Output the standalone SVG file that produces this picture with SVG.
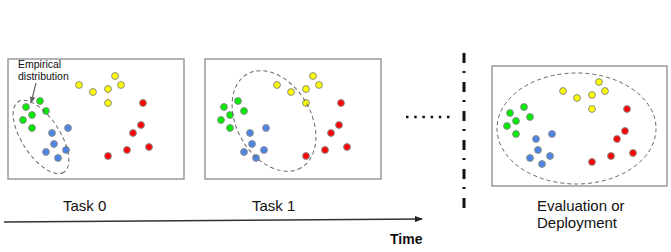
<svg xmlns="http://www.w3.org/2000/svg" width="671" height="252" viewBox="0 0 671 252">
<style>
.box{fill:#fff;stroke:#9a9a9a;stroke-width:1.5}
.y{fill:#ffff00;stroke:#8a8a8a;stroke-width:1}
.r{fill:#ff0000;stroke:#8a8a8a;stroke-width:1}
.g{fill:#00ee00;stroke:#8a8a8a;stroke-width:1}
.b{fill:#4a86e8;stroke:#8a8a8a;stroke-width:1}
.ell{fill:none;stroke:#666;stroke-width:1;stroke-dasharray:4 3}
.lbl{font-family:"Liberation Sans",Arial,sans-serif;font-size:15px;fill:#111}
</style>
<defs>
<marker id="ah" viewBox="0 0 10 8" refX="9" refY="4" markerWidth="8" markerHeight="6.4" markerUnits="userSpaceOnUse" orient="auto"><path d="M0,0 L10,4 L0,8 Z" fill="#222"/></marker>
<marker id="ahg" viewBox="0 0 10 8" refX="9" refY="4" markerWidth="7" markerHeight="6" markerUnits="userSpaceOnUse" orient="auto"><path d="M0,0 L10,4 L0,8 Z" fill="#666"/></marker>
<g id="dots">
<circle class="y" cx="115" cy="76" r="3.4"/><circle class="y" cx="79" cy="85" r="3.4"/><circle class="y" cx="93" cy="92" r="3.4"/><circle class="y" cx="108" cy="89" r="3.4"/><circle class="y" cx="121" cy="85" r="3.4"/><circle class="y" cx="108" cy="103" r="3.4"/>
<circle class="r" cx="143" cy="103" r="3.4"/><circle class="r" cx="141" cy="125" r="3.4"/><circle class="r" cx="133" cy="133" r="3.4"/><circle class="r" cx="149" cy="147" r="3.4"/><circle class="r" cx="127" cy="150" r="3.4"/><circle class="r" cx="108" cy="156" r="3.4"/>
<circle class="g" cx="40" cy="101" r="3.4"/><circle class="g" cx="26" cy="107" r="3.4"/><circle class="g" cx="46" cy="111" r="3.4"/><circle class="g" cx="32" cy="115" r="3.4"/><circle class="g" cx="23" cy="120" r="3.4"/><circle class="g" cx="32" cy="128" r="3.4"/>
<circle class="b" cx="68" cy="128" r="3.4"/><circle class="b" cx="52" cy="133" r="3.4"/><circle class="b" cx="54" cy="144" r="3.4"/><circle class="b" cx="66" cy="150" r="3.4"/><circle class="b" cx="46" cy="152" r="3.4"/><circle class="b" cx="58" cy="158" r="3.4"/>
</g>
</defs>
<g id="task0">
<rect class="box" x="8" y="59" width="176" height="120"/>
<use href="#dots"/>
<ellipse class="ell" cx="41" cy="137" rx="42" ry="19" transform="rotate(57 41 137)"/>
</g>
<g id="task1">
<rect class="box" x="205" y="59" width="176" height="120"/>
<use href="#dots" transform="translate(198 0)"/>
<ellipse class="ell" cx="274" cy="121" rx="54" ry="37" transform="rotate(60 274 121)"/>
</g>
<g id="eval">
<rect class="box" x="492" y="66" width="175" height="120"/>
<use href="#dots" transform="translate(484 6)"/>
<ellipse class="ell" cx="576.5" cy="128.5" rx="79.5" ry="55.5"/>
</g>
<g id="annotation">
<text x="18" y="68" font-family="'Liberation Sans',Arial,sans-serif" font-size="10.5" fill="#111">Empirical</text>
<text x="18" y="80" font-family="'Liberation Sans',Arial,sans-serif" font-size="10.5" fill="#111">distribution</text>
</g>
<g id="connectors">
<line x1="36" y1="83" x2="31" y2="103" stroke="#666" stroke-width="1.2" marker-end="url(#ahg)"/>
<line x1="4" y1="222" x2="422" y2="219" stroke="#333" stroke-width="1.3" marker-end="url(#ah)"/>
<line x1="406" y1="117" x2="451" y2="117" stroke="#111" stroke-width="2.5" stroke-dasharray="2.5 5.7"/>
<line x1="464" y1="53" x2="464" y2="209" stroke="#111" stroke-width="3" stroke-dasharray="10 8 2 9"/>
</g>
<g id="labels">
<text class="lbl" x="63" y="211">Task 0</text>
<text class="lbl" x="252" y="211">Task 1</text>
<text class="lbl" x="537" y="211">Evaluation or</text>
<text class="lbl" x="537" y="228">Deployment</text>
<text x="390" y="244" font-family="'Liberation Sans',Arial,sans-serif" font-size="14" font-weight="bold" fill="#111">Time</text>
</g>
</svg>
